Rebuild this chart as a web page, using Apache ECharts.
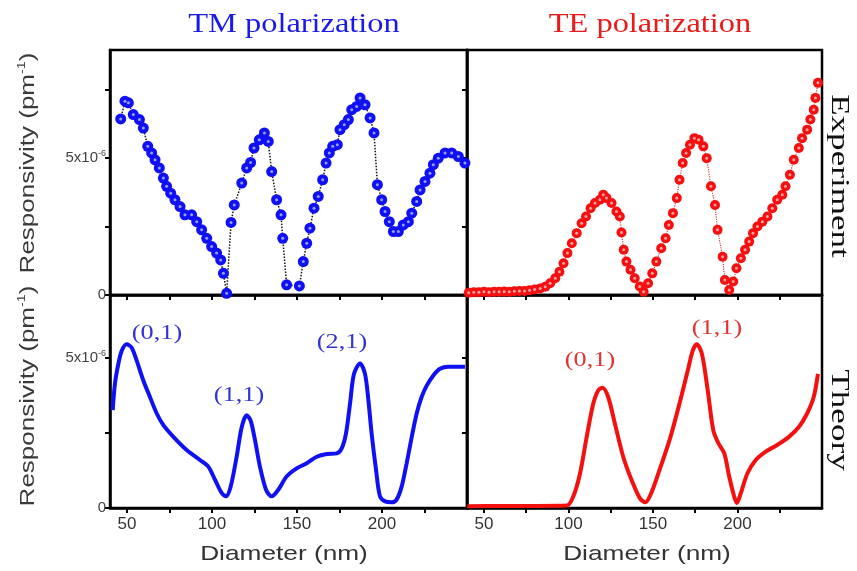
<!DOCTYPE html>
<html>
<head>
<meta charset="utf-8">
<script src="https://cdn.jsdelivr.net/npm/echarts@6/dist/echarts.min.js"></script>
<style>
html,body{margin:0;padding:0;background:#fff;}
#chart{width:857px;height:571px;}
</style>
</head>
<body>
<div id="chart"></div>
<script>
// Responsivity values in units of 1e-6 pm^-1, diameters in nm
var tmExpDiam = [46.3,48.8,50.8,53.7,57.3,59.6,62.2,64.5,66.5,69,71.4,73.3,75.7,78.2,81.2,84.1,88,91,93.9,96.9,99.8,102.7,105.1,106.7,108.6,111.2,113.1,117.5,120.4,122.7,124.7,127.8,130.8,133.1,135.1,138,140.6,141.6,143.9,151.4,153.7,155.7,157.6,160,162.5,165.1,167.1,169,171,173.7,175.3,177.8,180.2,182.2,185.1,187.1,190,193,195.3,197.3,199.8,201.8,204.3,206.7,209.6,212.5,215.5,217.5,220.4,222.4,225.3,228.2,230.2,233.1,237.1,241,244.9,248.8];
var tmExpResp = [6.43,7.08,7.02,6.59,6.41,6.10,5.43,5.19,4.94,4.64,4.27,3.97,3.72,3.48,3.23,2.93,2.93,2.68,2.38,2.07,1.77,1.53,1.28,0.79,0.06,2.65,3.29,4.09,4.64,4.84,5.37,5.67,5.92,5.61,4.51,3.48,2.93,2.07,0.37,0.33,1.22,1.89,2.44,3.17,3.60,4.21,4.82,5.19,5.43,5.49,6.04,6.22,6.41,6.77,6.89,7.20,6.95,6.47,5.92,4.03,3.48,3.05,2.68,2.32,2.32,2.56,2.68,2.99,3.42,3.84,4.15,4.45,4.76,5.00,5.19,5.19,5.06,4.82];

var teExpDiam = [41,44,47,50,53,56,59,62,65,68,71,74,77,80,83.3,86.3,89.2,92.2,94.7,97.1,99.4,102,104.9,107.8,110.4,113.1,115.7,118.6,120.6,122.5,125.5,128.4,130.4,131.4,132.7,134.3,136.7,139.2,142.2,144.5,147.1,149.6,152,154.9,157.5,159.4,161.8,164.1,165.7,167.6,169.6,171.9,174.5,177,179.8,181.8,184.3,186.7,188.2,191.2,192.5,195.1,197.5,199.4,202,204.5,206.9,209.2,211.8,214.7,217.7,220.6,223.5,226.5,228.4,231,233.3,236.3,238.2,241.2,243.1,245.1,246.1,247.6];
var teExpResp = [0.08,0.1,0.1,0.12,0.1,0.12,0.12,0.13,0.12,0.14,0.15,0.15,0.17,0.2,0.24,0.30,0.43,0.61,0.85,1.16,1.53,1.89,2.26,2.62,2.87,3.17,3.36,3.48,3.66,3.54,3.36,3.05,2.87,2.28,1.65,1.22,0.92,0.61,0.31,0.12,0.43,0.79,1.22,1.71,2.07,2.56,2.99,3.54,4.21,4.82,5.19,5.49,5.73,5.67,5.43,5.00,3.97,3.29,2.38,1.40,0.55,0.18,0.49,0.98,1.34,1.65,1.95,2.26,2.50,2.68,2.87,3.17,3.48,3.66,3.97,4.39,4.94,5.37,5.73,6.04,6.41,6.77,7.20,7.75];

var tmTheoDiam = [41.6,42.9,44.9,46.9,49.8,52.7,55.7,59.6,63.5,67.5,71.4,77.3,85.1,92.9,97.8,101.8,105.7,108.2,111,114.5,117.5,120.4,122.7,125.3,128.2,131.8,135.1,139,143.9,149.8,155.7,161.6,167.5,173.3,176.3,178.8,181.2,183.5,187.1,190,192,193.9,196.5,198.8,201.8,205.7,208.6,211.6,214.5,217.5,220.4,223.3,226.3,230.2,234.1,239,248.8];
var tmTheoResp = [3.26,4.14,4.80,5.24,5.46,5.35,4.91,4.25,3.70,3.15,2.76,2.37,1.93,1.60,1.38,0.94,0.50,0.39,0.72,1.71,2.70,3.09,2.92,2.26,1.38,0.61,0.39,0.61,1.05,1.32,1.49,1.71,1.80,1.82,1.99,2.48,3.48,4.47,4.82,4.47,3.59,2.48,1.27,0.39,0.22,0.19,0.28,0.72,1.49,2.37,3.15,3.70,4.08,4.42,4.64,4.71,4.71];

var teTheoDiam = [40.2,60,80,99,102.9,106.9,110.8,114.7,117.6,120.2,123.5,127.5,132.4,137.3,142.2,145.5,149,153.9,159.8,165.7,170.6,173.5,175.9,179,182.4,185.7,188.8,192.2,195.1,198,199.6,202,205.9,210.8,216.7,223.5,230.4,236.3,241.2,245.1,247.6];
var teTheoResp = [0.06,0.07,0.07,0.08,0.39,1.16,2.37,3.48,3.92,4.01,3.70,2.81,1.71,0.94,0.33,0.19,0.50,1.27,2.26,3.48,4.58,5.24,5.46,5.13,3.92,2.59,2.15,1.82,1.05,0.39,0.17,0.50,1.16,1.60,1.88,2.10,2.37,2.70,3.15,3.70,4.47];

var xTicks = [50,75,100,125,150,175,200,225];
var xLabels = [50,100,150,200];
var yTicksTop = [0,2.5,5,7.5];
var yTicksBottom = [0,2.5,5];
var yLabels = [0,5];

function pairs(xs, ys){ return xs.map(function(x,i){ return [x, ys[i]]; }); }

var SANS = '"Liberation Sans", Arial, sans-serif';
var SERIF = '"Liberation Serif", "Times New Roman", serif';
var BLUE = '#1010f5';
var RED = '#f51010';

var grids = [
  {left:110, top:50, width:357, height:245},
  {left:467, top:50, width:355, height:245},
  {left:110, top:295, width:357, height:213},
  {left:467, top:295, width:355, height:213}
];
grids.forEach(function(g){ g.show = true; g.borderColor = '#000'; g.borderWidth = 2.5; g.backgroundColor='transparent'; });

function xAxis(gi, showLabels){
  return {
    type:'value', gridIndex:gi, min:40, max:250,
    axisLine:{show:true, lineStyle:{color:'#000', width:2.5}},
    axisTick:{show:true, inside:false, length:5, customValues:xTicks, lineStyle:{color:'#000', width:2}},
    axisLabel:{show:showLabels, customValues:xLabels, color:'#333', fontFamily:SANS, fontSize:17, margin:8},
    splitLine:{show:false}
  };
}
function yAxis(gi, max, ticks, showLabels){
  return {
    type:'value', gridIndex:gi, min:0, max:max,
    axisLine:{show:true, lineStyle:{color:'#000', width:2.5}},
    axisTick:{show:true, inside:false, length:5, customValues:ticks, lineStyle:{color:'#000', width:2}},
    axisLabel:{show:showLabels, customValues:yLabels, margin:4,
      formatter:function(v){ return v === 0 ? '{a|0}' : '{a|5x10}{s|-6}'; },
      rich:{
        a:{color:'#444', fontFamily:SANS, fontSize:15, lineHeight:18},
        s:{color:'#444', fontFamily:SANS, fontSize:9, lineHeight:18, verticalAlign:'top'}
      }
    },
    splitLine:{show:false}
  };
}

function rotName(y){
  return {
    type:'text', x:28, y:y, rotation:Math.PI/2, scaleX:1.3,
    style:{
      text:'{a|Responsivity (pm}{s|-1}{a|)}',
      align:'center', verticalAlign:'middle',
      rich:{
        a:{fontFamily:SANS, fontSize:20, fill:'#3a3a3a', lineHeight:24},
        s:{fontFamily:SANS, fontSize:11, fill:'#3a3a3a', lineHeight:24, verticalAlign:'top'}
      }
    }
  };
}
function txt(x, y, s, font, size, color, sx, rot){
  return {type:'text', x:x, y:y, rotation:rot||0, scaleX:sx||1,
    style:{text:s, fontFamily:font, fontSize:size, fill:color, align:'center', verticalAlign:'middle'}};
}

var option = {
  animation:false,
  backgroundColor:'#fff',
  grid:grids,
  xAxis:[xAxis(0,false), xAxis(1,false), xAxis(2,true), xAxis(3,true)],
  yAxis:[yAxis(0,8.95,yTicksTop,true), yAxis(1,8.95,yTicksTop,false), yAxis(2,7.1,yTicksBottom,true), yAxis(3,7.1,yTicksBottom,false)],
  series:[
    {type:'line', xAxisIndex:0, yAxisIndex:0, data:pairs(tmExpDiam, tmExpResp),
      symbol:'circle', symbolSize:11, showSymbol:true,
      itemStyle:{color:BLUE}, lineStyle:{color:'#111', width:1.5, type:'dotted'}},
    {type:'scatter', xAxisIndex:0, yAxisIndex:0, data:pairs(tmExpDiam, tmExpResp),
      symbol:'circle', symbolSize:3, itemStyle:{color:'#b8c4ff'}, z:5},
    {type:'line', xAxisIndex:1, yAxisIndex:1, data:pairs(teExpDiam, teExpResp),
      symbol:'circle', symbolSize:10, showSymbol:true,
      itemStyle:{color:RED}, lineStyle:{color:'#d04040', width:1.2, type:'dotted'}},
    {type:'scatter', xAxisIndex:1, yAxisIndex:1, data:pairs(teExpDiam, teExpResp),
      symbol:'circle', symbolSize:3, itemStyle:{color:'#ffc8c8'}, z:5},
    {type:'line', xAxisIndex:2, yAxisIndex:2, data:pairs(tmTheoDiam, tmTheoResp),
      symbol:'none', smooth:0.3, lineStyle:{color:BLUE, width:4}},
    {type:'line', xAxisIndex:3, yAxisIndex:3, data:pairs(teTheoDiam, teTheoResp),
      symbol:'none', smooth:0.3, lineStyle:{color:RED, width:4}}
  ],
  graphic:[
    txt(294, 25, 'TM polarization', SERIF, 27, '#1a1ae8', 1.2),
    txt(650, 25, 'TE polarization', SERIF, 27, '#e81a1a', 1.2),
    txt(839, 176, 'Experiment', SERIF, 26, '#111', 1.35, -Math.PI/2),
    txt(839, 420, 'Theory', SERIF, 26, '#111', 1.35, -Math.PI/2),
    rotName(163),
    rotName(396),
    txt(284, 554, 'Diameter (nm)', SANS, 21, '#333', 1.25),
    txt(647, 554, 'Diameter (nm)', SANS, 21, '#333', 1.25),
    txt(157, 333, '(0,1)', SERIF, 21, '#3434d0', 1.25),
    txt(239, 395, '(1,1)', SERIF, 21, '#3434d0', 1.25),
    txt(342, 342, '(2,1)', SERIF, 21, '#3434d0', 1.25),
    txt(590, 360, '(0,1)', SERIF, 21, '#e03434', 1.25),
    txt(717, 328, '(1,1)', SERIF, 21, '#e03434', 1.25)
  ]
};

var chart = echarts.init(document.getElementById('chart'), null, {renderer:'canvas'});
chart.setOption(option);
</script>
</body>
</html>
